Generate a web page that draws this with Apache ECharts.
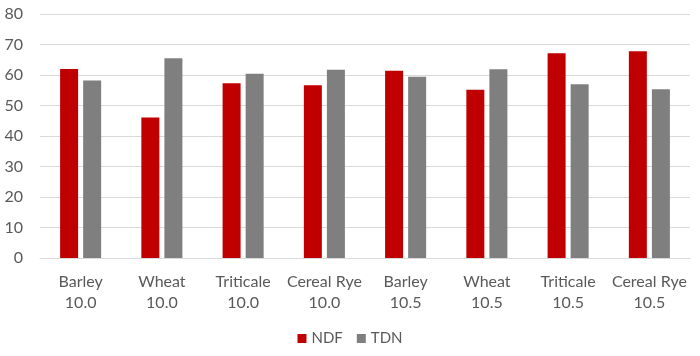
<!DOCTYPE html>
<html><head><meta charset="utf-8">
<script src="https://cdn.jsdelivr.net/npm/echarts@6/dist/echarts.min.js"></script>
<style>html,body{margin:0;padding:0;background:#fff}#c{width:700px;height:356px}</style>
</head><body><div id="c"></div>
<script>
const categories = ["Barley\n10.0","Wheat\n10.0","Triticale\n10.0","Cereal Rye\n10.0","Barley\n10.5","Wheat\n10.5","Triticale\n10.5","Cereal Rye\n10.5"];
const ndf = [62.0, 46.1, 57.3, 56.6, 61.4, 55.2, 67.1, 67.8];
const tdn = [58.2, 65.5, 60.4, 61.7, 59.4, 61.9, 57.0, 55.3];
const seriesNames = ["NDF","TDN"];
const yTicks = {min:0, max:80, interval:10};

const font = "Lato, Calibri, 'Open Sans', sans-serif";
const chart = echarts.init(document.getElementById('c'));
chart.setOption({
  animation:false,
  grid:{left:40,right:10,top:14,bottom:98,containLabel:false},
  legend:{bottom:5,left:'center',itemWidth:9,itemHeight:9,itemGap:14,icon:'rect',
    textStyle:{color:'#595959',fontSize:15,fontFamily:font},data:seriesNames},
  xAxis:{type:'category',data:categories,
    axisLine:{show:true,lineStyle:{color:'#D9D9D9',width:1}},
    axisTick:{show:false},
    axisLabel:{color:'#595959',fontSize:16,fontFamily:font,lineHeight:21,margin:13,interval:0}},
  yAxis:{type:'value',min:yTicks.min,max:yTicks.max,interval:yTicks.interval,
    axisLine:{show:false},axisTick:{show:false},
    splitLine:{lineStyle:{color:'#D9D9D9',width:1}},
    axisLabel:{color:'#595959',fontSize:16,fontFamily:font,margin:17}},
  series:[
    {name:seriesNames[0],type:'bar',data:ndf,barWidth:18,barGap:'28%',itemStyle:{color:'#C00000'}},
    {name:seriesNames[1],type:'bar',data:tdn,barWidth:18,barGap:'28%',itemStyle:{color:'#7F7F7F'}}
  ]
});
</script></body></html>
